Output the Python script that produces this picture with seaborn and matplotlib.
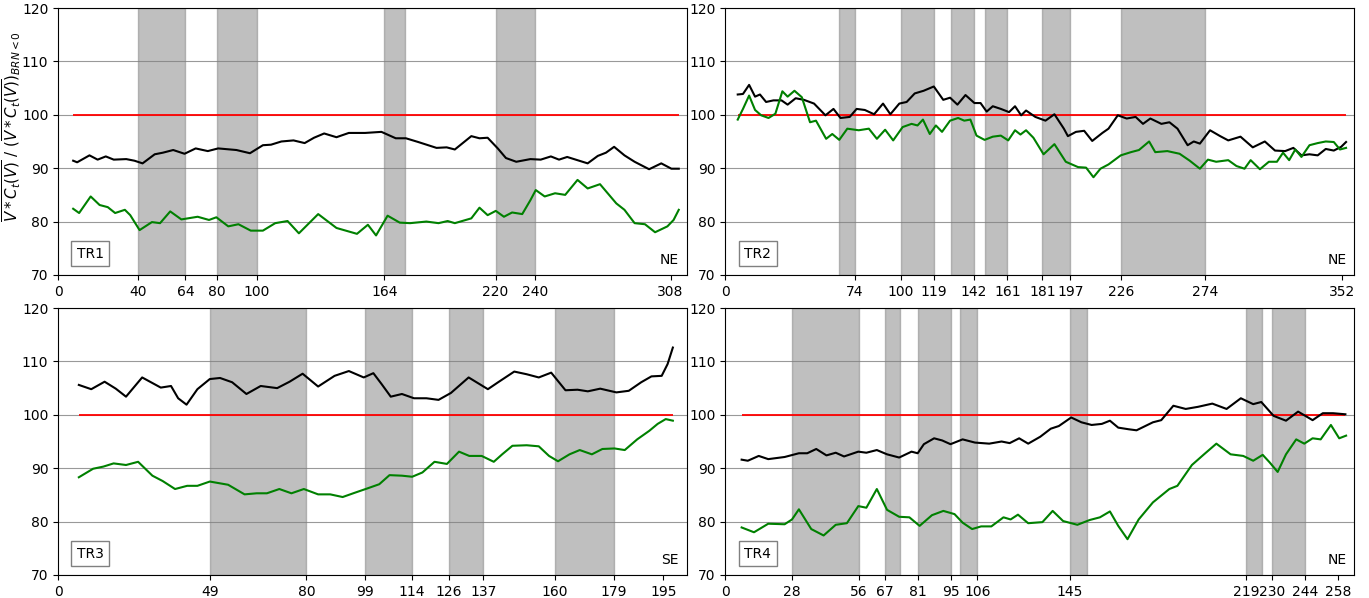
import matplotlib
matplotlib.use("Agg")
import matplotlib.pyplot as plt
import seaborn as sns
import pandas as pd

# values (distance along transect vs. normalised ratio)

# TR1
tr1_black_x = [7.6, 9.6, 15.8, 19.9, 24, 28, 34.3, 38.4, 42.5, 48.6, 52.7, 57.9, 63.6, 69.2, 75.3, 80.5, 89.7,
               96.5, 103, 107.1, 112.3, 118.4, 124, 128.7, 133.8, 140, 146.2, 154.4, 162.6, 169.8, 174.9, 181.1,
               190.3, 195.4, 199.5, 207.8, 211.9, 216, 221.1, 225.2, 230.4, 237.5, 242.7, 247.8, 251.9, 256,
               266.3, 271.4, 275.5, 279.6, 284.8, 289.9, 297.2, 303.3, 308.4, 312.1]
tr1_black_y = [91.4, 91.1, 92.4, 91.6, 92.2, 91.6, 91.7, 91.4, 90.9, 92.6, 92.9, 93.4, 92.7, 93.7, 93.2, 93.7, 93.4,
               92.8, 94.3, 94.4, 95.0, 95.2, 94.7, 95.7, 96.5, 95.8, 96.6, 96.6, 96.8, 95.6, 95.6, 94.9,
               93.8, 93.9, 93.5, 96.0, 95.6, 95.7, 93.7, 91.9, 91.2, 91.7, 91.6, 92.2, 91.6, 92.1,
               90.9, 92.3, 92.9, 94.0, 92.4, 91.2, 89.8, 90.9, 89.9, 89.9]
tr1_green_x = [7.6, 10.6, 16.4, 20.9, 25, 28.7, 33.6, 36.3, 41, 47.2, 51.3, 56.4, 62, 70.2, 75.9, 79.6, 85.6, 90.7,
               96.9, 103, 109.2, 115.4, 121.1, 130.8, 140, 150.3, 155.8, 159.9, 165.7, 171.8, 177, 185.2, 191.3,
               195.9, 199.5, 207.8, 211.9, 216, 220.1, 224.2, 228.3, 233.4, 237.5, 240.2, 244.7, 249.9, 255,
               261.2, 266.3, 272.5, 280.7, 284.8, 289.9, 295.1, 300.2, 306.4, 309.5, 312.1]
tr1_green_y = [82.4, 81.6, 84.7, 83.1, 82.7, 81.6, 82.2, 81.2, 78.4, 79.9, 79.7, 81.9, 80.4, 80.9, 80.3, 80.8, 79.1, 79.5,
               78.3, 78.3, 79.7, 80.1, 77.8, 81.4, 78.8, 77.7, 79.4, 77.4, 81.1, 79.8, 79.7, 80.0, 79.7,
               80.1, 79.7, 80.6, 82.6, 81.2, 82.0, 80.9, 81.7, 81.4, 84.0, 85.9, 84.7, 85.3, 85.0,
               87.8, 86.2, 87.0, 83.4, 82.2, 79.7, 79.5, 78.0, 79.1, 80.3, 82.2]
tr1_bands = [(40, 64), (80, 100), (164, 174.5), (220, 240)]
tr1_ticks = [0, 40, 64, 80, 100, 164, 220, 240, 308]

# TR2
tr2_black_x = [7, 10, 13.5, 16.9, 19.7, 23.2, 27.4, 32, 35.5, 40.1, 44.8, 50.6, 57.1, 61.7, 65.7, 71, 74.9, 79.6,
               84.9, 90, 94.2, 99.3, 103.5, 108.1, 113.2, 119, 124.4, 128.3, 132.5, 137.1, 142.2, 145.7, 149.2,
               152.7, 157.3, 162, 165.4, 168.9, 171.7, 177, 182.8, 187.9, 193.3, 195.6, 200.2, 204.9, 209.5,
               215.3, 218.8, 224.1, 229.2, 234.3, 238.5, 242.7, 249, 253.6, 258.2, 264, 267.5, 271, 276.8,
               282.6, 287.2, 294.2, 301.2, 308.1, 313.9, 319.7, 324.4, 329, 333.6, 338.3, 342.9, 347.5,
               351.7, 354.5]
tr2_black_y = [103.8, 103.9, 105.6, 103.4, 103.8, 102.4, 102.7, 102.7, 101.9, 103.1, 102.8, 102.1, 99.9, 101.1, 99.4,
               99.6, 101.1, 100.9, 100.1, 102.1, 100.1, 102.1, 102.4, 104.0, 104.5, 105.3, 102.8, 103.2, 101.9,
               103.7, 102.2, 102.2, 100.6, 101.6, 101.1, 100.5, 101.6, 99.9, 100.8, 99.6, 98.9, 100.1, 97.4,
               96.0, 96.8, 97.0, 95.1, 96.6, 97.4, 99.9, 99.3, 99.6, 98.3, 99.3, 98.3, 98.6, 97.4, 94.3, 95.0,
               94.6, 97.1, 96.0, 95.2, 95.9, 93.9, 95.0, 93.3, 93.2, 93.8, 92.4, 92.6, 92.4, 93.6, 93.3, 94.0,
               94.9]
tr2_green_x = [7, 10, 13.5, 16.9, 20.4, 24.6, 28.5, 32.5, 35.5, 39.4, 43.6, 48.3, 51.7, 57.5, 61, 65, 69.6, 76.1,
               81.9, 86.5, 91.2, 95.8, 101.2, 106.3, 109.7, 112.8, 116.7, 120.2, 123.7, 128.3, 132.9, 136.4,
               139.9, 143.4, 148, 152.7, 157.3, 161.5, 165.4, 168.5, 171.7, 175.9, 181.7, 187.9, 194.4, 201.4,
               206, 210.2, 214.2, 218.8, 225.8, 231.6, 236.2, 242, 245.5, 252.4, 259.4, 265.2, 271, 275.6,
               280.3, 287.2, 291.9, 296.5, 300, 305.3, 310.4, 315, 318.5, 322, 325.5, 329, 333.6, 338.3,
               342.9, 347.5, 351, 354.5]
tr2_green_y = [99.1, 101.1, 103.6, 100.9, 99.9, 99.4, 100.2, 104.4, 103.4, 104.5, 103.3, 98.6, 98.9, 95.5, 96.4,
               95.3, 97.4, 97.1, 97.4, 95.5, 97.2, 95.2, 97.7, 98.3, 98.0, 99.1, 96.4, 98.0, 96.8, 98.9, 99.4,
               98.9, 99.1, 96.1, 95.3, 95.9, 96.1, 95.2, 97.1, 96.3, 97.1, 95.7, 92.6, 94.5, 91.2, 90.2, 90.1,
               88.3, 89.9, 90.7, 92.4, 93.0, 93.4, 95.0, 93.0, 93.2, 92.7, 91.4, 89.9, 91.6, 91.2, 91.5, 90.4,
               89.9, 91.5, 89.8, 91.2, 91.2, 92.9, 91.5, 93.5, 92.1, 94.3, 94.7, 95.0, 94.9, 93.5, 93.8]
tr2_bands = [(65, 74), (100, 119), (129, 142), (148.5, 161), (181, 197), (226, 274)]
tr2_ticks = [0, 74, 100, 119, 142, 161, 181, 197, 226, 274, 352]

# TR3
tr3_black_x = [6.7, 10.7, 15, 18.6, 21.9, 27.1, 33.1, 36.4, 38.7, 41.4, 44.9, 48.9, 52.2, 56.1, 60.7, 65.3, 70.6,
               74.6, 78.8, 83.8, 89.1, 93.7, 98.5, 101.6, 104.2, 107.2, 110.8, 114.7, 118.7, 122.6, 126.6, 132.3,
               138.5, 141.8, 147, 151, 154.9, 158.9, 163.5, 167.4, 170.7, 174.7, 179.9, 183.9, 187.9, 191.2,
               194.5, 196.4, 198.1]
tr3_black_y = [105.6, 104.8, 106.2, 104.9, 103.4, 107.0, 105.1, 105.4, 103.1, 101.9, 104.8, 106.7, 106.9, 106.1,
               103.9, 105.4, 105.0, 106.2, 107.7, 105.3, 107.3, 108.2, 107.0, 107.8, 105.8, 103.4, 103.9, 103.1,
               103.1, 102.8, 104.1, 107.0, 104.8, 106.1, 108.1, 107.6, 107.0, 107.9, 104.6, 104.7, 104.4, 104.9,
               104.2, 104.5, 106.1, 107.2, 107.3, 109.5, 112.6]
tr3_green_x = [6.7, 11.3, 14.6, 17.9, 21.9, 25.8, 30.4, 33.7, 37.7, 41.6, 44.9, 48.9, 54.8, 60.1, 64, 67.3, 71.3,
               75.2, 79.2, 83.8, 87.7, 91.7, 95.6, 99.6, 103.5, 106.8, 110.8, 114.1, 117.4, 121.3, 125.3, 129.2,
               132.5, 136.5, 140.4, 143.1, 146.4, 151, 154.9, 158.2, 161.1, 164.8, 168.1, 172, 175.4, 179.3,
               182.6, 186.6, 190.5, 193.2, 195.8, 198.1]
tr3_green_y = [88.3, 89.9, 90.3, 90.9, 90.6, 91.2, 88.6, 87.6, 86.1, 86.7, 86.7, 87.5, 86.9, 85.1, 85.3, 85.3, 86.1,
               85.3, 86.1, 85.1, 85.1, 84.6, 85.4, 86.2, 87.0, 88.7, 88.6, 88.4, 89.2, 91.2, 90.8, 93.1, 92.3,
               92.3, 91.2, 92.6, 94.2, 94.3, 94.1, 92.3, 91.3, 92.6, 93.4, 92.6, 93.6, 93.7, 93.4, 95.4, 97.0,
               98.3, 99.2, 98.9]
tr3_bands = [(49, 80), (99, 114), (126, 137), (160, 179)]
tr3_ticks = [0, 49, 80, 99, 114, 126, 137, 160, 179, 195]

# TR4
tr4_black_x = [6.8, 9.4, 14, 18, 24.9, 30.9, 34.4, 38.2, 42.5, 46.4, 49.9, 55.9, 59.3, 63.7, 68, 73.1, 78.3, 80.9,
               83.5, 87.8, 91.2, 94.7, 99.8, 105, 111, 116.2, 119.6, 123.6, 127.4, 132.5, 136.9, 140.3, 145.5,
               149.8, 154.1, 158.4, 161.8, 165.3, 169.6, 173, 179.9, 183.4, 188.5, 193.7, 198.9, 204.9, 210.9,
               216.9, 222.1, 225.5, 230.7, 235.9, 241, 247.1, 251.4, 255.7, 260.9]
tr4_black_y = [91.6, 91.4, 92.3, 91.7, 92.1, 92.8, 92.8, 93.6, 92.4, 92.9, 92.2, 93.1, 92.9, 93.4, 92.6, 92.0, 93.1,
               92.8, 94.5, 95.6, 95.2, 94.5, 95.4, 94.8, 94.6, 95.0, 94.7, 95.6, 94.6, 95.9, 97.4, 97.9, 99.5,
               98.6, 98.1, 98.3, 98.9, 97.6, 97.3, 97.1, 98.6, 99.0, 101.7, 101.1, 101.5, 102.1, 101.1, 103.1,
               102.0, 102.4, 99.8, 98.9, 100.6, 99.0, 100.3, 100.3, 100.1]
tr4_green_x = [6.8, 12, 18, 24.9, 28, 30.9, 36.1, 41.3, 46.4, 51.1, 55.9, 59.3, 63.7, 68, 73.1, 77.4, 81.7, 86.9,
               91.7, 96.4, 99.8, 103.8, 107.6, 111.9, 117, 120, 123.1, 127.4, 133.4, 137.7, 142.1, 148.1, 153.3,
               157.6, 161.8, 165.3, 169.2, 173.9, 179.9, 186.8, 190.2, 196.3, 201.4, 206.6, 212.6, 217.9, 222.1,
               226.1, 229, 232.4, 235.9, 240.2, 243.6, 247.1, 250.5, 254.8, 258.3, 261.2]
tr4_green_y = [78.9, 78.0, 79.6, 79.5, 80.4, 82.3, 78.6, 77.4, 79.4, 79.7, 82.9, 82.6, 86.1, 82.2, 80.9, 80.8, 79.2,
               81.2, 82.0, 81.4, 79.8, 78.6, 79.1, 79.1, 80.8, 80.4, 81.3, 79.7, 79.9, 82.0, 80.1, 79.4, 80.3,
               80.8, 81.9, 79.2, 76.7, 80.4, 83.6, 86.1, 86.7, 90.6, 92.6, 94.6, 92.6, 92.3, 91.4, 92.5, 91.1,
               89.3, 92.6, 95.4, 94.6, 95.6, 95.4, 98.1, 95.6, 96.1]
tr4_bands = [(28, 56), (67, 73.5), (81, 95), (98.5, 106), (145, 152), (219, 226), (230, 244)]
tr4_ticks = [0, 28, 56, 67, 81, 95, 106, 145, 219, 230, 244, 258]

panels = [
    ("TR1", "NE", tr1_black_x, tr1_black_y, tr1_green_x, tr1_green_y, tr1_bands, tr1_ticks, 316),
    ("TR2", "NE", tr2_black_x, tr2_black_y, tr2_green_x, tr2_green_y, tr2_bands, tr2_ticks, 359),
    ("TR3", "SE", tr3_black_x, tr3_black_y, tr3_green_x, tr3_green_y, tr3_bands, tr3_ticks, 202.5),
    ("TR4", "NE", tr4_black_x, tr4_black_y, tr4_green_x, tr4_green_y, tr4_bands, tr4_ticks, 264.5),
]

fig, axes = plt.subplots(2, 2, figsize=(13.69, 5.98), dpi=100)
fig.subplots_adjust(left=0.0424, right=0.989, top=0.9866, bottom=0.0385, wspace=0.062, hspace=0.124)

for ax, (name, direction, bx, by, gx, gy, bands, ticks, xmax) in zip(axes.flat, panels):
    # shaded sections
    for start, end in bands:
        ax.axvspan(start, end, color="grey", alpha=0.5, zorder=1)

    df_black = pd.DataFrame({"x": bx, "y": by})
    df_green = pd.DataFrame({"x": gx, "y": gy})
    sns.lineplot(data=df_black, x="x", y="y", color="black", linewidth=1.5, estimator=None, ax=ax, zorder=3)
    sns.lineplot(data=df_green, x="x", y="y", color="green", linewidth=1.5, estimator=None, ax=ax, zorder=3)

    # reference line at 100 over the data range
    ax.hlines(100, min(bx), max(bx), color="red", linewidth=1.3, zorder=2)

    ax.set_xlim(0, xmax)
    ax.set_ylim(70, 120)
    ax.set_xticks(ticks)
    ax.set_yticks([70, 80, 90, 100, 110, 120])
    ax.yaxis.grid(True, color="grey", linewidth=0.8, alpha=0.8, zorder=0)
    ax.set_axisbelow(True)
    ax.set_xlabel("")
    ax.set_ylabel("")

    ax.text(0.03, 0.08, name, transform=ax.transAxes, fontsize=10, va="center", ha="left",
            bbox=dict(boxstyle="square,pad=0.4", facecolor="white", edgecolor="grey"))
    ax.text(0.988, 0.03, direction, transform=ax.transAxes, fontsize=10, va="bottom", ha="right")

axes[0, 0].set_ylabel(r"$\overline{V*C_t(V)}$ / $(\overline{V*C_t(V)})_{BRN<0}$", fontsize=10.8)
axes[0, 0].yaxis.set_label_coords(-0.056, 0.555)

fig.savefig("out.png", dpi=100)
